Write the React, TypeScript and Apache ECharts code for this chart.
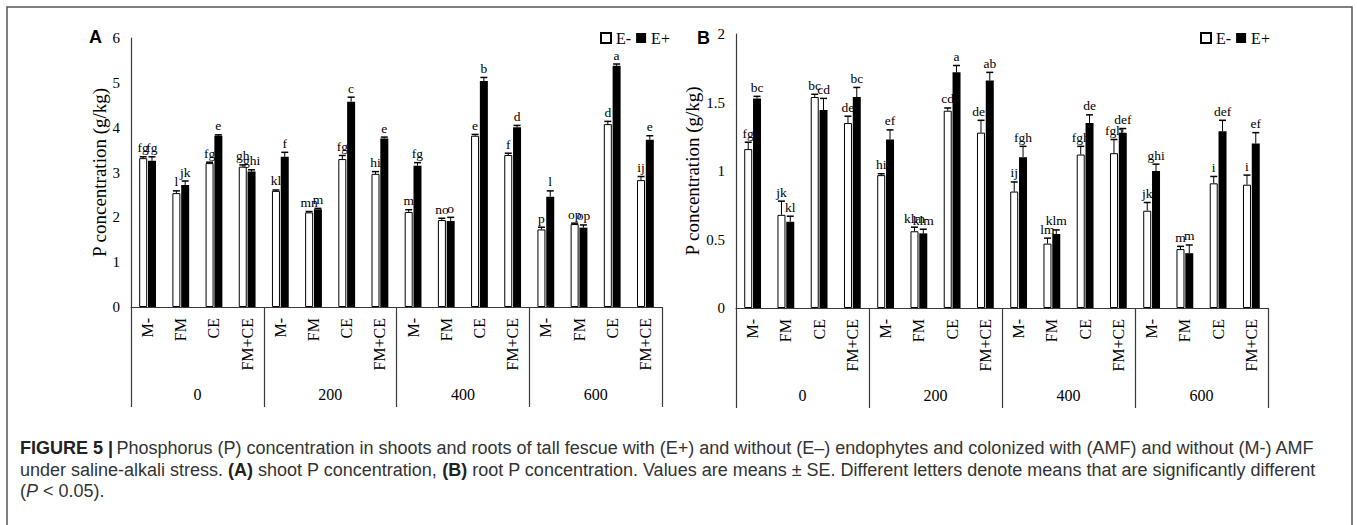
import React, { useEffect, useRef } from "react";
import * as echarts from "echarts";

const categories = ["M-", "FM", "CE", "FM+CE"];
const groups = ["0", "200", "400", "600"];

// Panel A: shoot P concentration
const shootEminus = [3.32, 2.54, 3.21, 3.13, 2.59, 2.11, 3.30, 2.97, 2.12, 1.94, 3.82, 3.39, 1.73, 1.85, 4.08, 2.83];
const shootEminusSE = [0.03, 0.05, 0.02, 0.04, 0.02, 0.02, 0.08, 0.05, 0.05, 0.04, 0.03, 0.04, 0.05, 0.02, 0.06, 0.08];
const shootEplus = [3.26, 2.72, 3.82, 3.02, 3.35, 2.18, 4.58, 3.76, 3.15, 1.92, 5.04, 4.01, 2.46, 1.77, 5.38, 3.73];
const shootEplusSE = [0.09, 0.09, 0.02, 0.04, 0.10, 0.02, 0.10, 0.03, 0.07, 0.08, 0.08, 0.04, 0.13, 0.06, 0.04, 0.09];
const shootEminusLetters = ["fg", "l", "fg", "gh", "kl", "mn", "fg", "hi", "m", "no", "e", "f", "p", "op", "d", "ij"];
const shootEplusLetters = ["fg", "jk", "e", "ghi", "f", "m", "c", "e", "fg", "o", "b", "d", "l", "op", "a", "e"];

// Panel B: root P concentration
const rootEminus = [1.16, 0.68, 1.54, 1.35, 0.97, 0.56, 1.44, 1.28, 0.85, 0.47, 1.12, 1.13, 0.71, 0.43, 0.91, 0.90];
const rootEminusSE = [0.05, 0.10, 0.02, 0.05, 0.01, 0.03, 0.02, 0.09, 0.07, 0.04, 0.06, 0.10, 0.06, 0.02, 0.05, 0.07];
const rootEplus = [1.53, 0.63, 1.445, 1.54, 1.23, 0.545, 1.72, 1.66, 1.10, 0.54, 1.35, 1.28, 1.00, 0.40, 1.29, 1.20];
const rootEplusSE = [0.015, 0.04, 0.085, 0.07, 0.07, 0.03, 0.05, 0.06, 0.08, 0.03, 0.06, 0.03, 0.05, 0.06, 0.08, 0.08];
const rootEminusLetters = ["fg", "jk", "bc", "de", "hi", "klm", "cd", "def", "ij", "lm", "fgh", "fgh", "jk", "m", "i", "i"];
const rootEplusLetters = ["bc", "kl", "cd", "bc", "ef", "klm", "a", "ab", "fgh", "klm", "de", "def", "ghi", "m", "def", "ef"];

const yTitle = "P concentration (g/kg)";
const captionLine1 =
  "Phosphorus (P) concentration in shoots and roots of tall fescue with (E+) and without (E\u2013) endophytes and colonized with (AMF) and without (M-) AMF";

const SERIF = '"Liberation Serif", "Times New Roman", serif';
const SANS = '"Liberation Sans", Arial, sans-serif';
const AXIS_COLOR = "#3a3a3a";
const CAP = 18;

const catKeys = groups.flatMap((g) => categories.map((c) => g + "|" + c));

function errSeries(name: string, xi: number, yi: number, vals: number[], ses: number[], letters: string[], dx: number) {
  return {
    type: "custom",
    name,
    xAxisIndex: xi,
    yAxisIndex: yi,
    silent: true,
    z: 5,
    data: vals.map((v, i) => [i, v, v + ses[i]]),
    encode: { x: 0, y: [1, 2] },
    renderItem: (params: any, api: any) => {
      const i = api.value(0);
      const base = api.coord([i, api.value(1)]);
      const top = api.coord([i, api.value(2)]);
      const x = base[0] + dx;
      return {
        type: "group",
        children: [
          { type: "line", shape: { x1: x, y1: base[1], x2: x, y2: top[1] }, style: { stroke: "#000", lineWidth: 1 } },
          { type: "line", shape: { x1: x - 3.5, y1: top[1], x2: x + 3.5, y2: top[1] }, style: { stroke: "#000", lineWidth: 1.5 } },
          {
            type: "text",
            style: {
              text: letters[params.dataIndex],
              x,
              y: top[1] - 2,
              textAlign: "center",
              textVerticalAlign: "bottom",
              fill: "#000",
              font: "13.5px " + SERIF,
            },
          },
        ],
      };
    },
  };
}

function barSeries(name: string, xi: number, yi: number, vals: number[], white: boolean) {
  return {
    type: "bar",
    name,
    xAxisIndex: xi,
    yAxisIndex: yi,
    data: vals,
    barWidth: 8,
    barGap: "10%",
    itemStyle: white
      ? { color: "#fff", borderColor: "#000", borderWidth: 1 }
      : { color: "#000", borderColor: "#000", borderWidth: 0 },
  };
}

function catAxis(gridIndex: number) {
  return {
    type: "category",
    gridIndex,
    data: catKeys,
    position: "bottom",
    offset: 0,
    axisLine: { show: true, lineStyle: { color: AXIS_COLOR, width: 1.2 } },
    axisTick: { show: false },
    axisLabel: {
      interval: 0,
      rotate: 90,
      margin: 11,
      color: "#000",
      fontFamily: SERIF,
      fontSize: 16,
      formatter: (v: string) => v.split("|")[1],
    },
  };
}

function groupAxis(gridIndex: number) {
  return {
    type: "category",
    gridIndex,
    data: groups,
    position: "bottom",
    offset: 0,
    axisLine: { show: false },
    axisTick: { show: true, length: 100, lineStyle: { color: AXIS_COLOR, width: 1.2 } },
    axisLabel: { interval: 0, margin: 79, color: "#000", fontFamily: SERIF, fontSize: 16 },
  };
}

function valAxis(gridIndex: number, max: number, interval: number, nameGap: number) {
  return {
    type: "value",
    gridIndex,
    min: 0,
    max,
    interval,
    name: yTitle,
    nameLocation: "middle",
    nameGap,
    nameTextStyle: { color: "#000", fontFamily: SERIF, fontSize: 19 },
    axisLine: { show: true, lineStyle: { color: AXIS_COLOR, width: 1.2 } },
    axisTick: { show: false },
    splitLine: { show: false },
    axisLabel: { color: "#000", fontFamily: SERIF, fontSize: 15, margin: 11 },
  };
}

export default function App() {
  const ref = useRef<HTMLDivElement>(null);
  useEffect(() => {
    if (!ref.current) return;
    const chart = echarts.init(ref.current, undefined, { renderer: "svg" });
    const legendCommon = {
      orient: "horizontal",
      itemWidth: 10,
      itemHeight: 10,
      itemGap: 5,
      padding: 0,
      icon: "rect",
      data: ["E-", "E+"],
      textStyle: { color: "#000", fontFamily: SERIF, fontSize: 16 },
    };
    const rich = {
      b: { font: "bold " + CAP + "px " + SANS, fill: "#222" },
      n: { font: CAP + "px " + SANS, fill: "#333" },
      i: { font: "italic " + CAP + "px " + SANS, fill: "#333" },
    };
    chart.setOption({
      animation: false,
      grid: [
        { left: 131, top: 38, width: 531, height: 269 },
        { left: 736, top: 34, width: 532, height: 274 },
      ],
      xAxis: [catAxis(0), groupAxis(0), catAxis(1), groupAxis(1)],
      yAxis: [valAxis(0, 6, 1, 20), valAxis(1, 2, 0.5, 24)],
      legend: [
        { ...legendCommon, left: 600, top: 30 },
        { ...legendCommon, left: 1200, top: 30 },
      ],
      series: [
        barSeries("E-", 0, 0, shootEminus, true),
        barSeries("E+", 0, 0, shootEplus, false),
        errSeries("errA1", 0, 0, shootEminus, shootEminusSE, shootEminusLetters, -4.4),
        errSeries("errA2", 0, 0, shootEplus, shootEplusSE, shootEplusLetters, 4.4),
        barSeries("E-", 2, 1, rootEminus, true),
        barSeries("E+", 2, 1, rootEplus, false),
        errSeries("errB1", 2, 1, rootEminus, rootEminusSE, rootEminusLetters, -4.4),
        errSeries("errB2", 2, 1, rootEplus, rootEplusSE, rootEplusLetters, 4.4),
      ],
      graphic: [
        {
          type: "polyline",
          shape: { points: [[7, 525], [7, 7], [1352, 7], [1352, 525]] },
          style: { stroke: "#555", lineWidth: 1.5, fill: null },
          silent: true,
        },
        { type: "text", left: 89, top: 28, style: { text: "A", font: "bold 18px " + SANS, fill: "#000" } },
        { type: "text", left: 697, top: 29, style: { text: "B", font: "bold 18px " + SANS, fill: "#000" } },
        {
          type: "text",
          left: 20,
          top: 439,
          style: { text: "{b|FIGURE 5 |} {n|" + captionLine1 + "}", rich },
        },
        {
          type: "text",
          left: 20,
          top: 461,
          style: {
            text:
              "{n|under saline-alkali stress. }{b|(A)}{n| shoot P concentration, }{b|(B)}{n| root P concentration. Values are means \u00b1 SE. Different letters denote means that are significantly different}",
            rich,
          },
        },
        {
          type: "text",
          left: 20,
          top: 482,
          style: { text: "{n|(}{i|P}{n| < 0.05).}", rich },
        },
      ],
    });
    return () => chart.dispose();
  }, []);
  return <div ref={ref} style={{ position: "fixed", left: 0, top: 0, width: 1357, height: 525, background: "#fff" }} />;
}
